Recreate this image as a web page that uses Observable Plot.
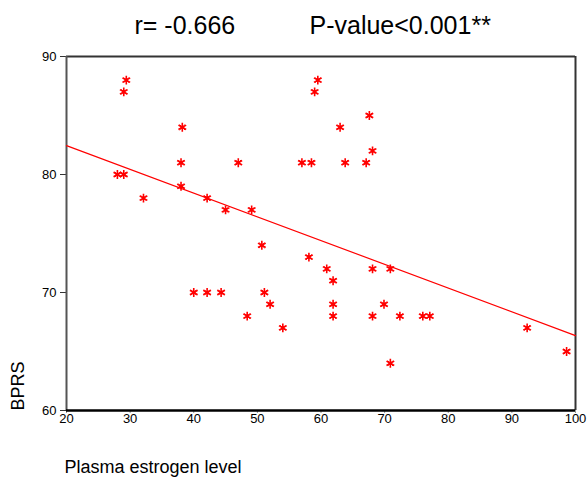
<!DOCTYPE html>
<html>
<head>
<meta charset="utf-8">
<script src="https://cdn.jsdelivr.net/npm/d3@7"></script>
<script src="https://cdn.jsdelivr.net/npm/@observablehq/plot@0.6"></script>
<style>
  html, body { margin: 0; padding: 0; background: #fff; }
  #chart svg { display: block; }
</style>
</head>
<body>
<div id="chart"></div>
<script>
// Plasma estrogen level (x) and BPRS (y)
const estrogen = [29.4, 29.0, 28.0, 29.0, 32.1, 38.2, 38.0, 38.0, 42.1, 45.0, 47.0, 49.1,
  57.0, 58.5, 59.5, 59.0, 67.6, 63.0, 68.1, 63.8, 67.1, 50.7, 40.0, 42.1, 44.3, 51.1,
  52.0, 48.4, 54.0, 58.1, 60.9, 61.9, 61.9, 61.9, 68.1, 70.9, 69.9, 68.1, 72.4, 76.0,
  77.1, 70.9, 92.4, 98.6];
const bprs = [88, 87, 80, 80, 78, 84, 81, 79, 78, 77, 81, 77,
  81, 81, 88, 87, 85, 84, 82, 81, 81, 74, 70, 70, 70, 70,
  69, 68, 67, 73, 72, 71, 69, 68, 72, 72, 69, 68, 68, 68,
  68, 64, 67, 65];
// fitted regression line end points
const fitX = [20, 100];
const fitY = [82.45, 66.35];
// ticks
const xTicks = [20, 30, 40, 50, 60, 70, 80, 90, 100];
const yTicks = [60, 70, 80, 90];
// texts
const titleR = "r= -0.666";
const titleP = "P-value<0.001**";
const xLabel = "Plasma estrogen level";
const yLabel = "BPRS";

const points = estrogen.map((x, i) => ({x, y: bprs[i]}));
const fit = fitX.map((x, i) => ({x, y: fitY[i]}));

const font = "Arial, 'Liberation Sans', Helvetica, sans-serif";

const chart = Plot.plot({
  width: 587,
  height: 477,
  marginLeft: 66,
  marginRight: 12,
  marginTop: 56,
  marginBottom: 67,
  style: {fontFamily: font, fontSize: "13px", color: "#000", background: "#fff"},
  x: {domain: [20, 100], label: null},
  y: {domain: [60, 90], label: null},
  marks: [
    Plot.axisX({ticks: xTicks, tickSize: 3, tickPadding: 0, stroke: "#999", label: null, fontSize: 13}),
    Plot.axisY({ticks: yTicks, tickSize: 6, tickPadding: 4, stroke: "#333", label: null, fontSize: 13}),
    Plot.ruleY([90], {stroke: "#333", strokeWidth: 2}),
    Plot.ruleX([100], {stroke: "#333", strokeWidth: 2}),
    Plot.ruleX([20], {stroke: "#555", strokeWidth: 2}),
    Plot.ruleY([60], {stroke: "#000", strokeWidth: 2.5}),
    Plot.line(fit, {x: "x", y: "y", stroke: "#ff0000", strokeWidth: 1.2}),
    Plot.dot(points, {x: "x", y: "y", symbol: "asterisk", r: 4.2, stroke: "#ff0000", strokeWidth: 1.6}),
    Plot.dot(points, {x: "x", y: "y", symbol: "times", r: 2.6, stroke: "#ff0000", strokeWidth: 1}),
    Plot.dot(points, {x: "x", y: "y", r: 1.8, fill: "#ff0000", stroke: null}),
    Plot.text([titleR], {text: d => d, frameAnchor: "top-left", dx: 68, dy: -31, textAnchor: "start", lineAnchor: "middle", fontSize: 25, fill: "#000"}),
    Plot.text([titleP], {text: d => d, frameAnchor: "top-left", dx: 243, dy: -31, textAnchor: "start", lineAnchor: "middle", fontSize: 25, fill: "#000"}),
    Plot.text([xLabel], {text: d => d, frameAnchor: "bottom-left", dx: -2, dy: 57, textAnchor: "start", lineAnchor: "middle", fontSize: 18, fill: "#000"}),
    Plot.text([yLabel], {text: d => d, frameAnchor: "bottom-left", dx: -48, dy: 0, rotate: -90, textAnchor: "start", lineAnchor: "middle", fontSize: 18, fill: "#000"})
  ]
});
document.getElementById("chart").appendChild(chart);
</script>
</body>
</html>
